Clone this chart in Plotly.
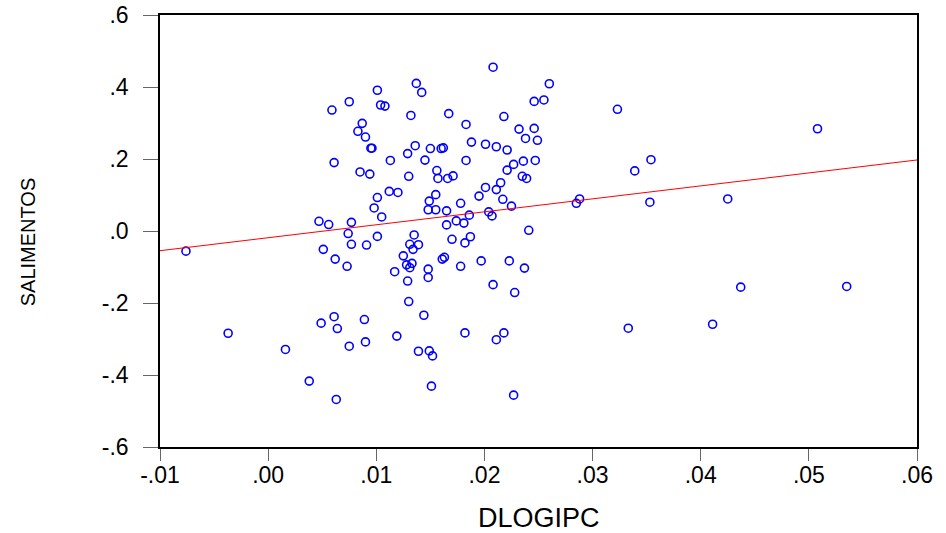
import plotly.graph_objects as go

# DLOGIPC (x) and SALIMENTOS (y)
dlogipc = [
    0.0137, 0.0142, 0.0101, 0.0075, 0.0059, 0.0104, 0.0108, 0.0132, 0.0087, 0.0083,
    0.0090, 0.0095, 0.0096, 0.0136, 0.0150, 0.0129, 0.0061, 0.0113, 0.0145, 0.0085,
    0.0094, 0.0130, 0.0112, 0.0120, 0.0101, 0.0149, 0.0098, 0.0148, 0.0105, 0.0047,
    0.0056, 0.0077, 0.0074, 0.0101, 0.0135, 0.0077, 0.0091, 0.0131, 0.0139, 0.0051,
    0.0134, 0.0208, 0.0260, 0.0246, 0.0255, 0.0167, 0.0218, 0.0183, 0.0232, 0.0246,
    0.0238, 0.0249, 0.0188, 0.0201, 0.0211, 0.0221, 0.0160, 0.0162, 0.0183, 0.0236,
    0.0247, 0.0227, 0.0221, 0.0156, 0.0157, 0.0166, 0.0171, 0.0235, 0.0239, 0.0215,
    0.0201, 0.0211, 0.0155, 0.0195, 0.0217, 0.0178, 0.0225, 0.0155, 0.0165, 0.0186,
    0.0204, 0.0207, 0.0174, 0.0181, 0.0165, 0.0241, 0.0187, 0.0170, 0.0182, 0.0062,
    0.0073, 0.0125, 0.0117, 0.0128, 0.0133, 0.0131, 0.0148, 0.0148, 0.0129, 0.0130,
    0.0144, 0.0061, 0.0049, 0.0089, 0.0064, 0.0119, 0.0090, 0.0075, 0.0139, 0.0149,
    0.0152, 0.0038, 0.0063, 0.0151, 0.0161, 0.0163, 0.0178, 0.0197, 0.0223, 0.0237,
    0.0208, 0.0228, 0.0182, 0.0218, 0.0211, 0.0227, -0.0076, -0.0037, 0.0016, 0.0323,
    0.0508, 0.0354, 0.0339, 0.0288, 0.0285, 0.0353, 0.0425, 0.0437, 0.0535, 0.0333,
    0.0411,
]
salimentos = [
    0.410, 0.385, 0.391, 0.359, 0.336, 0.350, 0.347, 0.321, 0.299, 0.277,
    0.261, 0.230, 0.230, 0.237, 0.229, 0.215, 0.190, 0.196, 0.197, 0.164,
    0.158, 0.152, 0.110, 0.107, 0.093, 0.083, 0.064, 0.059, 0.039, 0.027,
    0.018, 0.024, -0.007, -0.015, -0.011, -0.037, -0.039, -0.037, -0.038, -0.051,
    -0.051, 0.455, 0.409, 0.360, 0.364, 0.326, 0.318, 0.296, 0.283, 0.285,
    0.257, 0.252, 0.247, 0.241, 0.234, 0.225, 0.229, 0.231, 0.196, 0.194,
    0.196, 0.185, 0.169, 0.168, 0.146, 0.146, 0.153, 0.152, 0.146, 0.134,
    0.121, 0.115, 0.101, 0.097, 0.088, 0.077, 0.069, 0.059, 0.056, 0.044,
    0.053, 0.042, 0.028, 0.022, 0.017, 0.002, -0.016, -0.023, -0.033, -0.078,
    -0.098, -0.069, -0.113, -0.094, -0.090, -0.102, -0.106, -0.129, -0.139, -0.196,
    -0.234, -0.238, -0.256, -0.246, -0.271, -0.292, -0.308, -0.320, -0.334, -0.333,
    -0.347, -0.417, -0.468, -0.431, -0.078, -0.073, -0.098, -0.083, -0.083, -0.103,
    -0.149, -0.171, -0.283, -0.283, -0.302, -0.456, -0.056, -0.284, -0.329, 0.338,
    0.284, 0.198, 0.167, 0.089, 0.077, 0.080, 0.089, -0.156, -0.154, -0.270,
    -0.259,
]

# regression line coefficients
fit_intercept = -0.0187
fit_slope = 3.6

x_range = [-0.01, 0.06]
y_range = [-0.6, 0.6]
x_tickvals = [-0.01, 0.0, 0.01, 0.02, 0.03, 0.04, 0.05, 0.06]
x_ticktext = ["-.01", ".00", ".01", ".02", ".03", ".04", ".05", ".06"]
y_tickvals = [0.6, 0.4, 0.2, 0.0, -0.2, -0.4, -0.6]
y_ticktext = [".6", ".4", ".2", ".0", "-.2", "-.4", "-.6"]

fig = go.Figure()
fig.add_trace(go.Scatter(
    x=dlogipc, y=salimentos, mode="markers",
    marker=dict(symbol="circle-open", size=8, color="#0000FF",
                line=dict(color="#0000FF", width=1.6)),
    showlegend=False, cliponaxis=False,
))
line_x = list(x_range)
line_y = [fit_intercept + fit_slope * v for v in line_x]
fig.add_trace(go.Scatter(
    x=line_x, y=line_y, mode="lines",
    line=dict(color="#FF0000", width=1), showlegend=False,
))

font_main = "Liberation Sans, Arial, sans-serif"
fig.update_layout(
    width=946, height=533,
    margin=dict(l=160, r=29, t=15, b=86, autoexpand=False),
    paper_bgcolor="white", plot_bgcolor="white",
    font=dict(family=font_main, size=20, color="black"),
    xaxis=dict(range=x_range, tickvals=x_tickvals, ticktext=x_ticktext,
               showgrid=False, zeroline=False, showline=True, mirror=True,
               linecolor="black", linewidth=1.5, ticks="outside", ticklen=12,
               tickcolor="#666666", tickwidth=1, ticklabelstandoff=-5,
               tickfont=dict(family=font_main, size=23)),
    yaxis=dict(range=y_range, tickvals=y_tickvals, ticktext=y_ticktext,
               showgrid=False, zeroline=False, showline=True, mirror=True,
               linecolor="black", linewidth=1.5, ticks="outside", ticklen=15,
               tickcolor="#666666", tickwidth=1, ticklabelstandoff=10,
               tickfont=dict(family=font_main, size=23)),
    annotations=[
        dict(text="DLOGIPC", xref="paper", yref="paper", x=0.5, y=-0.164,
             xanchor="center", yanchor="middle", showarrow=False,
             font=dict(family=font_main, size=27)),
        dict(text="SALIMENTOS", xref="paper", yref="paper", x=-0.174, y=0.4745,
             xanchor="center", yanchor="middle", showarrow=False, textangle=-90,
             font=dict(family=font_main, size=20)),
    ],
)

fig.write_html("out.html")
